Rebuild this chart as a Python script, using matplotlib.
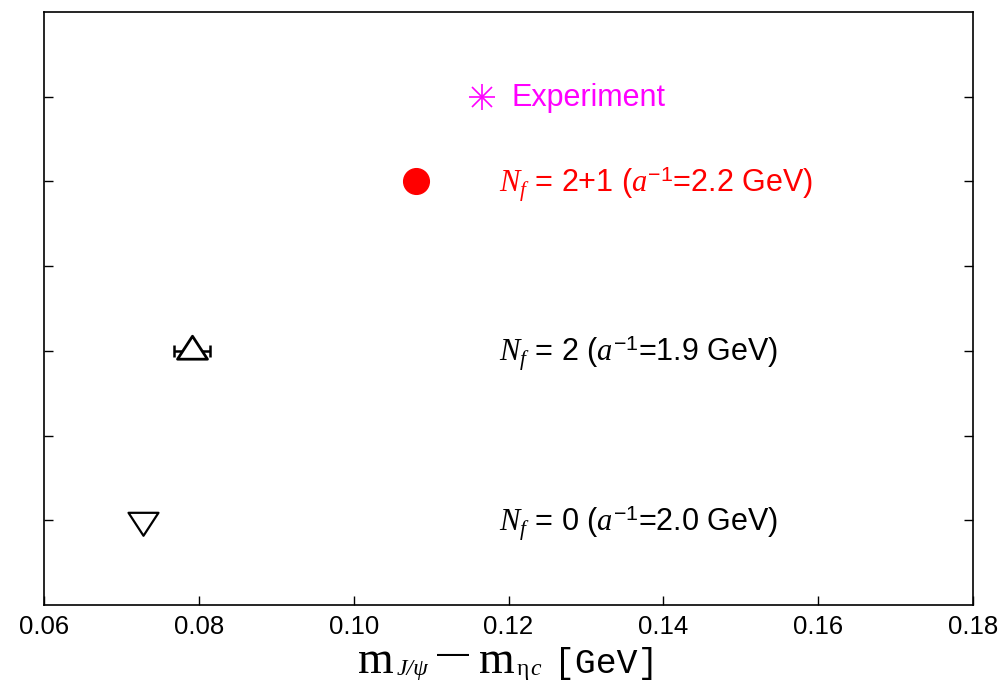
import matplotlib
matplotlib.use('Agg')
import matplotlib.pyplot as plt
from matplotlib.path import Path

plt.rcParams['font.family'] = ['Liberation Sans', 'DejaVu Sans']
plt.rcParams['mathtext.fontset'] = 'custom'
plt.rcParams['mathtext.rm'] = 'Liberation Sans'
plt.rcParams['mathtext.it'] = 'Liberation Serif:italic'

# data (GeV)
exp_x, exp_y = 0.1166, 6
nf21_x, nf21_y = 0.1080, 5
nf2_x, nf2_err, nf2_y = 0.0791, 0.0023, 3
nf0_x, nf0_y = 0.0728, 1

labels = [
    (6, 'Experiment', 'magenta'),
    (5, r'$N_f$ = 2+1 ($a^{\mathregular{-1}}$=2.2 GeV)', 'red'),
    (3, r'$N_f$ = 2 ($a^{\mathregular{-1}}$=1.9 GeV)', 'black'),
    (1, r'$N_f$ = 0 ($a^{\mathregular{-1}}$=2.0 GeV)', 'black'),
]
xticks = [0.06, 0.08, 0.10, 0.12, 0.14, 0.16, 0.18]

# gnuplot-like wide triangles, centred on centroid
tri_up = Path([(0, 15.3), (-15, -7.7), (15, -7.7), (0, 15.3)],
              [Path.MOVETO, Path.LINETO, Path.LINETO, Path.CLOSEPOLY])
tri_dn = Path([(0, -15.3), (-15, 7.7), (15, 7.7), (0, -15.3)],
              [Path.MOVETO, Path.LINETO, Path.LINETO, Path.CLOSEPOLY])

fig = plt.figure(figsize=(10.03, 6.85), dpi=100)
ax = fig.add_axes([0.0439, 0.1168, 0.9262, 0.8657])

# experiment: asterisk = plus + cross
ax.plot([exp_x], [exp_y], marker='+', ms=19, mew=1.2, color='magenta', ls='none')
ax.plot([exp_x], [exp_y], marker='x', ms=15, mew=1.2, color='magenta', ls='none')

ax.plot([nf21_x], [nf21_y], marker='o', ms=18.5, color='red', mec='red', ls='none')

ax.errorbar([nf2_x], [nf2_y], xerr=[nf2_err], fmt='none', ecolor='black',
            elinewidth=1.8, capsize=4, capthick=1.8)
ax.plot([nf2_x], [nf2_y], marker=tri_up, ms=22, mfc='white', mec='black', mew=2, ls='none')

ax.plot([nf0_x], [nf0_y], marker=tri_dn, ms=22, mfc='white', mec='black', mew=1.6, ls='none')

for y, txt, col in labels:
    if txt == 'Experiment':
        ax.text(0.1204, y - 0.11, txt, color=col, fontsize=22, va='baseline', ha='left')
    else:
        ax.text(0.1188, y - 0.13, txt, color=col, fontsize=22, va='baseline', ha='left')

ax.set_xlim(0.06, 0.18)
ax.set_ylim(0, 7)
ax.set_xticks(xticks)
ax.set_xticklabels(['%.2f' % v for v in xticks], fontsize=18.5)
ax.set_yticks([1, 2, 3, 4, 5, 6])
ax.set_yticklabels([])
ax.tick_params(axis='x', direction='in', length=6.5, width=1, top=False, pad=7)
ax.tick_params(axis='y', direction='in', length=6.5, width=1, left=True, right=True)
for s in ax.spines.values():
    s.set_linewidth(1.2)

# x label built from pieces (text, font props, vertical shift px, gap px before)
serif = 'Liberation Serif'
pieces = [
    ('m', dict(family=serif, size=33), 0, 0),
    ('J/\u03c8', dict(family=serif, style='italic', size=17), -2, 3),
    ('\u2014', dict(family='Liberation Sans', size=23), 10, 8),
    ('m', dict(family=serif, size=33), 0, 10),
    ('\u03b7', dict(family=serif, size=17), -2, 2),
    ('c', dict(family=serif, style='italic', size=17), -2, 1),
    ('[GeV]', dict(family='Liberation Mono', size=25), 0, 14),
]
renderer = fig.canvas.get_renderer()
W, H = fig.bbox.width, fig.bbox.height
base_px = 12  # baseline height above bottom edge
arts, widths = [], []
for s, props, dy, gap in pieces:
    t = fig.text(0, (base_px + dy) / H, s, va='baseline', ha='left', **props)
    arts.append(t)
    widths.append(t.get_window_extent(renderer).width)
total = sum(widths) + sum(p[3] for p in pieces)
ax_bb = ax.get_window_extent(renderer)
x = (ax_bb.x0 + ax_bb.x1) / 2 - total / 2
for t, w, p in zip(arts, widths, pieces):
    x += p[3]
    t.set_x(x / W)
    x += w

fig.savefig('out.png', dpi=100)
